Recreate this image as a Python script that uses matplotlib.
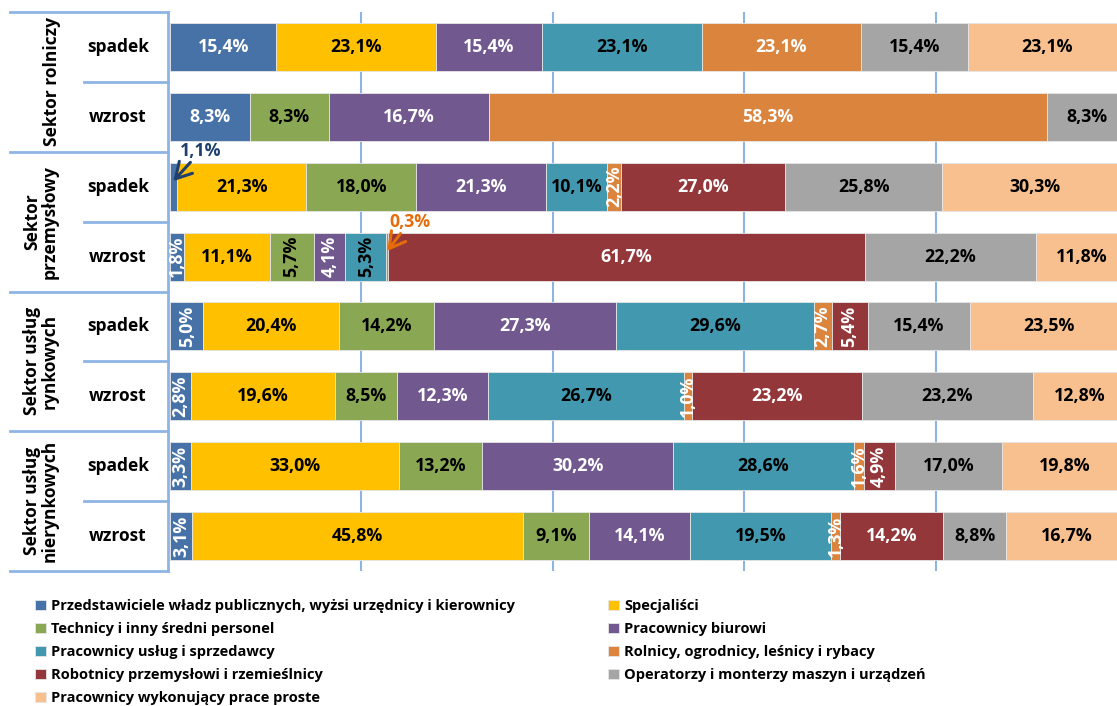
import matplotlib
matplotlib.use("Agg")
import matplotlib.pyplot as plt
import numpy as np

# ---------------- data ----------------
categories = [
    "Przedstawiciele władz publicznych, wyżsi urzędnicy i kierownicy",
    "Specjaliści",
    "Technicy i inny średni personel",
    "Pracownicy biurowi",
    "Pracownicy usług i sprzedawcy",
    "Rolnicy, ogrodnicy, leśnicy i rybacy",
    "Robotnicy przemysłowi i rzemieślnicy",
    "Operatorzy i monterzy maszyn i urządzeń",
    "Pracownicy wykonujący prace proste",
]
row_labels = ["spadek", "wzrost"] * 4
group_labels = ["Sektor rolniczy", "Sektor\nprzemysłowy",
                "Sektor usług\nrynkowych", "Sektor usług\nnierynkowych"]

# rows: rol-sp, rol-wz, prz-sp, prz-wz, ryn-sp, ryn-wz, nier-sp, nier-wz
przedstawiciele = [15.4, 8.3, 1.1, 1.8, 5.0, 2.8, 3.3, 3.1]
specjalisci     = [23.1, 0.0, 21.3, 11.1, 20.4, 19.6, 33.0, 45.8]
technicy        = [0.0, 8.3, 18.0, 5.7, 14.2, 8.5, 13.2, 9.1]
biurowi         = [15.4, 16.7, 21.3, 4.1, 27.3, 12.3, 30.2, 14.1]
uslugi          = [23.1, 0.0, 10.1, 5.3, 29.6, 26.7, 28.6, 19.5]
rolnicy         = [23.1, 58.3, 2.2, 0.3, 2.7, 1.0, 1.6, 1.3]
robotnicy       = [0.0, 0.0, 27.0, 61.7, 5.4, 23.2, 4.9, 14.2]
operatorzy      = [15.4, 8.3, 25.8, 22.2, 15.4, 23.2, 17.0, 8.8]
proste          = [23.1, 0.0, 30.3, 11.8, 23.5, 12.8, 19.8, 16.7]

series = [przedstawiciele, specjalisci, technicy, biurowi, uslugi,
          rolnicy, robotnicy, operatorzy, proste]

# ---------------- style ----------------
colors = ["#4672A8", "#FFC000", "#8AA853", "#71588F", "#4198AF",
          "#DB843D", "#93373A", "#A5A5A5", "#F9C08F"]
text_colors = ["white", "black", "black", "white", "black",
               "white", "white", "black", "black"]
line_col = "#8EB4E3"
FONT = "Open Sans"
LS = 12.8   # bar label size

W, H = 1117, 706
fig = plt.figure(figsize=(W / 100, H / 100), dpi=100)
x0, x1, y0, y1 = 170, 1127, 12, 571
ax = fig.add_axes([x0 / W, 1 - y1 / H, (x1 - x0) / W, (y1 - y0) / H])

data = np.array(series, dtype=float)
totals = data.sum(axis=0)
frac = data / totals
n_rows = data.shape[1]
ypos = np.arange(n_rows)
bar_h = 0.686

left = np.zeros(n_rows)
handles = []
for i, cat in enumerate(categories):
    h = ax.barh(ypos, frac[i], left=left, height=bar_h, color=colors[i],
                edgecolor="#E6E6E6", linewidth=0.6, label=cat, zorder=3)
    handles.append(h)
    for r in range(n_rows):
        v = data[i, r]
        if v <= 0:
            continue
        cx = left[r] + frac[i, r] / 2
        lab = f"{v:.1f}%".replace(".", ",")
        if (i, r) in [(0, 2), (5, 3)]:
            continue
        rot = 90 if frac[i, r] < 0.052 else 0
        ax.text(cx, r, lab, rotation=rot, ha="center", va="center",
                color=text_colors[i], fontsize=LS, fontweight="bold",
                family=FONT, zorder=5)
    left += frac[i]

# callouts for tiny segments
def callout(i, r, col, dx, dy):
    lft = frac[:i, r].sum()
    cx = lft + frac[i, r] / 2
    lab = f"{data[i, r]:.1f}%".replace(".", ",")
    ax.annotate(lab, xy=(cx, r - 0.08), xytext=(dx, dy),
                textcoords="offset points", ha="center", va="center",
                color=col, fontsize=LS, fontweight="bold", family=FONT,
                arrowprops=dict(arrowstyle="->,head_length=0.7,head_width=0.4",
                                color=col, lw=2.2,
                                shrinkA=0, shrinkB=0, mutation_scale=16),
                zorder=6)

callout(0, 2, "#1F3F6E", 20, 22)
callout(5, 3, "#E46C0A", 16, 21)

ax.set_xlim(0, 1)
ax.set_ylim(n_rows - 0.5, -0.5)
for s in ax.spines.values():
    s.set_visible(False)
ax.set_xticks([])
ax.set_yticks([])
for g in [0.2, 0.4, 0.6, 0.8]:
    ax.axvline(g, color=line_col, lw=1.5, zorder=1)

# table structure on the left
left_group = (10 - x0) / (x1 - x0)
left_sub = (84 - x0) / (x1 - x0)
ax.plot([-0.002, -0.002], [-0.5, n_rows - 0.5], color=line_col, lw=2,
        clip_on=False, zorder=2)
for b in [-0.5, 1.5, 3.5, 5.5, 7.5]:
    ax.plot([left_group, -0.002], [b, b], color=line_col, lw=2,
            clip_on=False, zorder=2)
for b in [0.5, 2.5, 4.5, 6.5]:
    ax.plot([left_sub, -0.002], [b, b], color=line_col, lw=2,
            clip_on=False, zorder=2)

# row labels
xrow = (118 - x0) / (x1 - x0)
for r, lab in enumerate(row_labels):
    ax.text(xrow, r, lab, ha="center", va="center", fontsize=12.5,
            fontweight="bold", family=FONT, clip_on=False)

group_x = [52, 41, 41, 41]
for g, lab in enumerate(group_labels):
    ax.text((group_x[g] - x0) / (x1 - x0), 2 * g + 0.5, lab, rotation=90,
            ha="center", va="center", multialignment="center", fontsize=12.5,
            fontweight="bold", family=FONT, linespacing=1.0, clip_on=False)

# legend (two columns, row-wise order)
lkw = dict(frameon=False, handlelength=0.75, handleheight=0.75,
           handletextpad=0.35, labelspacing=0.62, borderpad=0, borderaxespad=0,
           prop={"family": FONT, "weight": "bold", "size": 10.5})
c1 = [0, 2, 4, 6, 8]
c2 = [1, 3, 5, 7]
fig.legend([handles[k] for k in c1], [categories[k] for k in c1],
           loc="upper left", bbox_to_anchor=(35 / W, 1 - 599 / H), **lkw)
fig.legend([handles[k] for k in c2], [categories[k] for k in c2],
           loc="upper left", bbox_to_anchor=(608 / W, 1 - 599 / H), **lkw)

fig.savefig("out.png", dpi=100)
